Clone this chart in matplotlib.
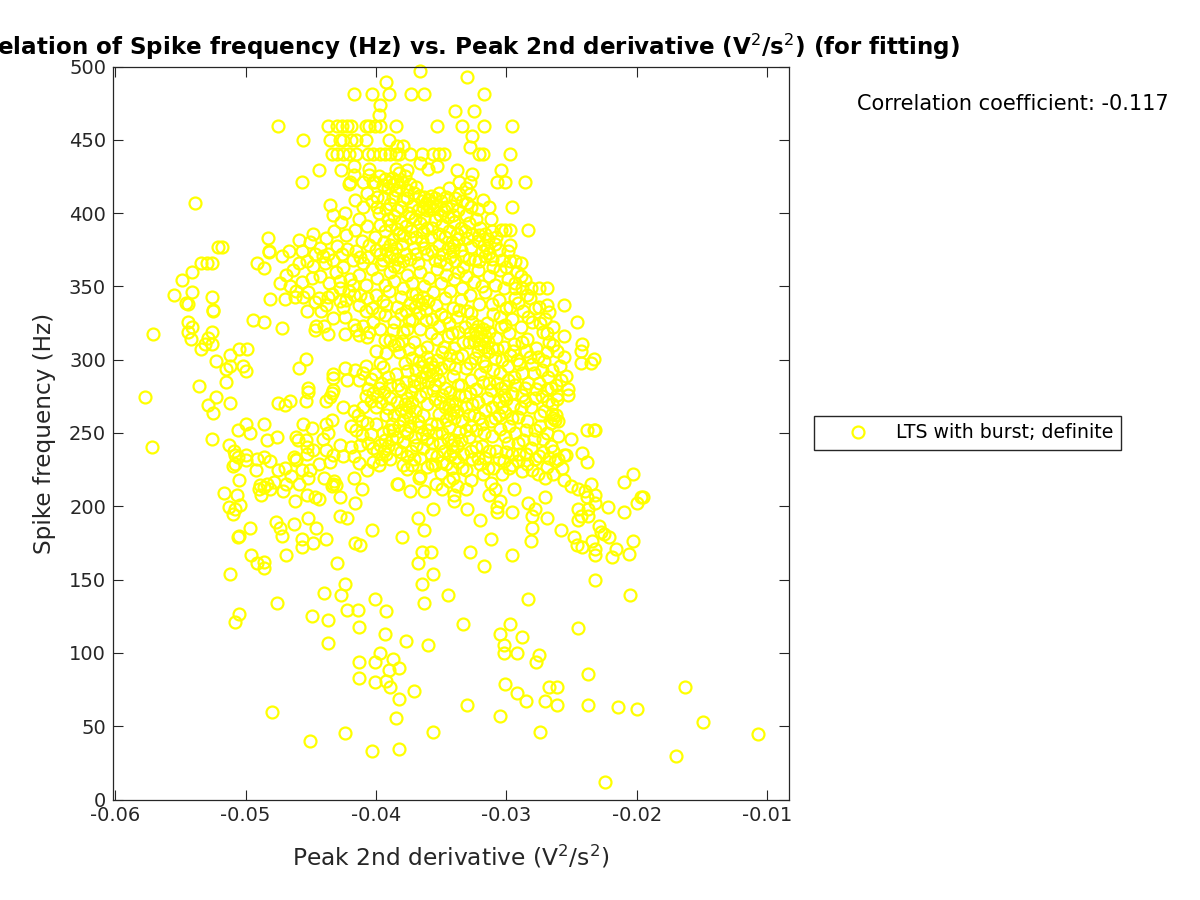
import matplotlib
matplotlib.use('Agg')
import matplotlib.pyplot as plt
import numpy as np

# points as (peak 2nd derivative, spike frequency)
pts_low_left = [(-.0512,153.9),(-.0505,126.8),(-.0508,121.1),(-.0476,134),(-.0480,60),(-.0451,40),(-.0424,45.5),(-.0403,33),
    (-.0382,34.2),(-.0385,55.5),(-.0356,45.8),(-.0371,74),(-.0382,68.5),(-.0389,77),(-.0392,81),(-.0401,80),(-.0413,82.6),
    (-.0413,94),(-.0401,94),(-.0397,99.7),(-.0387,95.8),(-.0390,88.6),(-.0382,90),(-.0437,107),(-.0413,118),(-.0437,122.5),
    (-.0449,125.5),(-.0422,129.6),(-.0414,129.6),(-.0401,136.7),(-.0392,128.4),(-.0393,112.7),(-.0377,108.4),(-.0360,105.4),
    (-.0440,141),(-.0427,139.4),(-.0424,146.9),(-.0430,161),(-.0368,161),(-.0356,153.9),(-.0365,146.9),(-.0345,139.6),
    (-.0363,134),(-.0365,169),(-.0358,169),(-.0496,166.7),(-.0491,161),(-.0486,162),(-.0486,158),(-.0469,166.7)]
pts_low_right = [(-.0107,44.4),(-.0170,30),(-.0149,52.8),(-.0163,76.8),(-.0224,11.6),(-.0200,61.5),(-.0214,62.8),(-.0237,64.2),
    (-.0237,85.4),(-.0261,64.2),(-.0270,67),(-.0261,76.8),(-.0267,76.8),(-.0274,45.8),(-.0285,67),(-.0305,57),(-.0292,72.7),
    (-.0301,78.5),(-.0330,64.2),(-.0277,93.9),(-.0275,98.4),(-.0292,99.7),(-.0302,99.7),(-.0302,105.3),(-.0305,112.7),
    (-.0288,111),(-.0297,119.6),(-.0333,119.6),(-.0245,116.8),(-.0205,139.4),(-.0232,149.6),(-.0283,136.7),(-.0317,159.5),
    (-.0328,169),(-.0296,166.7),(-.0232,166.7),(-.0219,165.3),(-.0206,167.7)]
pts_right_edge = [(-.0246,326),(-.0256,316),(-.0242,310.4),(-.0243,306),(-.0256,302),(-.0233,300.5),(-.0235,297.5),(-.0243,297.5),
    (-.0254,289),(-.0253,280),(-.0253,276),(-.0261,273),(-.0238,252),(-.0233,252),(-.0232,252),(-.0250,246),(-.0242,236.5),
    (-.0238,230.5),(-.0254,235),(-.0256,235),(-.0203,222),(-.0210,216.5),(-.0195,206.5),(-.0197,206.5),(-.0200,202),
    (-.0222,199.4),(-.0210,196.4),(-.0235,215),(-.0232,208),(-.0245,212),(-.0240,210.7),(-.0238,206.5),(-.0232,202),
    (-.0245,198),(-.0237,198),(-.0243,193.6),(-.0237,193.6),(-.0245,190.8),(-.0258,183.7),(-.0229,186.6),(-.0227,182.4),
    (-.0225,181),(-.0221,179.3),(-.0203,176.6),(-.0234,176.6),(-.0248,179.3),(-.0246,173.8),(-.0242,172.2),(-.0232,171),
    (-.0216,171),(-.0269,192.3),(-.0280,185),(-.0281,176.6),(-.0312,178),(-.0320,190.8),(-.0330,198),(-.0296,196.4),
    (-.0307,199.4),(-.0307,196.4),(-.0305,203.6),(-.0283,202),(-.0278,198),(-.0280,193.6),(-.0270,206.5),(-.0294,212),
    (-.0313,208),(-.0309,212),(-.0331,212),(-.0340,208),(-.0340,203.6),(-.0334,226.4),(-.0320,229),(-.0313,237.8),(-.0323,240.5)]
pts_top_right = [(-.0330,492.5),(-.0317,481),(-.0339,469.7),(-.0325,469.7),(-.0334,459.7),(-.0317,459.7),(-.0296,459.7),
    (-.0326,452.5),(-.0328,445.4),(-.0321,440),(-.0318,440),(-.0297,440),(-.0304,429.7),(-.0338,429.7),(-.0326,427),
    (-.0307,421.4),(-.0301,421.4),(-.0286,421.4),(-.0336,421.4),(-.0328,421.4),(-.0331,417),(-.0328,412.7),(-.0313,404.4),
    (-.0296,404.4),(-.0283,388.7),(-.0297,388.7),(-.0301,388.7),(-.0304,388.7),(-.0312,395.8),(-.0299,374.4),(-.0297,367),
    (-.0293,367.5),(-.0289,365.8),(-.0292,360),(-.0286,354.5),(-.0269,348.7),(-.0275,348.7),(-.0281,348.7),(-.0288,348.7),
    (-.0293,348.7),(-.0256,337.4),(-.0269,337.4),(-.0267,332.7)]
pts_top_left = [(-.0366,496.8),(-.0392,489.4),(-.0417,481),(-.0403,481),(-.0390,481),(-.0373,481),(-.0363,481),(-.0397,474),
    (-.0398,466.6),(-.0475,459.7),(-.0437,459.7),(-.0430,459.7),(-.0426,459.7),(-.0422,459.7),(-.0419,459.7),(-.0408,459.7),
    (-.0405,459.7),(-.0401,459.7),(-.0397,459.7),(-.0385,459.7),(-.0353,459.7),(-.0456,449.8),(-.0435,449.8),(-.0428,449.8),
    (-.0425,449.8),(-.0419,449.8),(-.0415,449.8),(-.0408,449.8),(-.0390,449.8),(-.0384,446),(-.0379,445.5),(-.0434,440),
    (-.0430,440),(-.0425,440),(-.0421,440),(-.0415,440),(-.0406,440),(-.0402,440),(-.0397,440),(-.0393,440),(-.0389,440),
    (-.0385,440),(-.0382,440),(-.0374,440),(-.0365,440),(-.0356,440),(-.0352,440),(-.0348,440),(-.0444,429.7),(-.0457,421.4),
    (-.0427,429.7),(-.0417,431.8),(-.0405,430),(-.0385,430),(-.0382,427.3),(-.0376,429.5),(-.0366,434),(-.0360,430),(-.0353,432),
    (-.0420,421.4),(-.0421,420),(-.0410,421.4),(-.0401,421.4),(-.0417,426),(-.0405,426),(-.0539,407),(-.0435,405.7),(-.0416,408.6),
    (-.0410,404.4),(-.0399,404.4),(-.0433,398.4),(-.0427,393.8),(-.0424,400),(-.0416,388.7),(-.0413,396),(-.0407,391),(-.0448,385.9),
    (-.0451,380.5),(-.0459,381.5),(-.0483,382.9),(-.0521,377),(-.0518,377),(-.0482,374.3),(-.0482,373.7),(-.0467,374.4),(-.0457,374.4),
    (-.0472,370.5),(-.0430,377.7),(-.0422,375.3),(-.0412,370.3),(-.0437,372),(-.0534,365.8),(-.0530,365.8),(-.0526,365.8),
    (-.0491,365.8),(-.0486,362.8),(-.0541,360),(-.0549,354.5),(-.0541,346),(-.0555,344.4),(-.0526,343),(-.0546,339),(-.0544,337.8),
    (-.0481,341.6),(-.0470,341.6),(-.0456,343),(-.0525,334)]
pts_mid_left = [(-.0571,317.6),(-.0577,274.8),(-.0572,240.6),(-.0525,333),(-.0544,326),(-.0541,322.5),(-.0544,319),(-.0542,314),
    (-.0526,319),(-.0529,314.6),(-.0526,310.4),(-.0534,307.5),(-.0531,311),(-.0512,303),(-.0505,307),(-.0499,307.5),(-.0523,299),
    (-.0502,296),(-.0500,292),(-.0512,296),(-.0515,293.5),(-.0515,284.8),(-.0536,282),(-.0523,274.8),(-.0529,269),(-.0512,270.5),
    (-.0525,263.4),(-.0526,246.2),(-.0513,241.9),(-.0509,237.8),(-.0508,235),(-.0506,233.7),(-.0500,235),(-.0510,227.5),(-.0508,229),
    (-.0500,231.5),(-.0491,232),(-.0486,233.7),(-.0481,231),(-.0492,224.7),(-.0505,217.9),(-.0475,225),(-.0470,226),(-.0463,233.7),
    (-.0461,232),(-.0517,209),(-.0507,208),(-.0513,199.5),(-.0504,200.8),(-.0510,195),(-.0508,198),(-.0497,185),(-.0506,179),
    (-.0505,179.5),(-.0489,214.5),(-.0486,213),(-.0488,207.6),(-.0481,212),(-.0490,212),(-.0484,215),(-.0478,216.7),(-.0471,210.5),
    (-.0469,215.5),(-.0465,221),(-.0459,215.5),(-.0453,208),(-.0462,203.7),(-.0447,206.4),(-.0444,205),(-.0428,206.4),(-.0416,202),
    (-.0411,212),(-.0417,219.3),(-.0433,215.5),(-.0432,217),(-.0434,214),(-.0431,214.5),(-.0440,219),(-.0452,219),(-.0407,224.7),
    (-.0477,189.3),(-.0474,185.4),(-.0472,179.6),(-.0463,187.8),(-.0452,192),(-.0446,185),(-.0457,178),(-.0457,172.2),(-.0448,175),
    (-.0438,178),(-.0428,193.6),(-.0422,192),(-.0403,183.7),(-.0380,179.3),(-.0416,175),(-.0412,173.8),(-.0368,192.3),(-.0363,183.7),
    (-.0356,198),(-.0384,215),(-.0383,215),(-.0374,210.7),(-.0363,210.7),(-.0379,228),(-.0376,225.7),(-.0371,232.6),(-.0366,221),
    (-.0367,219),(-.0494,327.3),(-.0486,326),(-.0472,321.7),(-.0446,323),(-.0447,320.3),(-.0440,323),(-.0437,317.6),(-.0424,317.6),
    (-.0433,328.6),(-.0424,329),(-.0417,323.8),(-.0415,320.3),(-.0413,317),(-.0410,323),(-.0407,315.6),(-.0405,319),(-.0438,337.4),
    (-.0447,339.5),(-.0413,337.4),(-.0425,336),(-.0428,340),(-.0403,335),(-.0398,331.6),(-.0393,330.6),(-.0454,300.2),(-.0459,294.5),
    (-.0433,290.3),(-.0433,287.3),(-.0424,294.5),(-.0416,293),(-.0422,286),(-.0413,286),(-.0410,290.7),(-.0401,290.3),(-.0397,297.5),
    (-.0392,304.3),(-.0393,313.5),(-.0389,313.5),(-.0383,311),(-.0452,280.4),(-.0452,278),(-.0454,271.9),(-.0438,271.9),(-.0435,274.7),
    (-.0433,279.4),(-.0434,277),(-.0475,270.5),(-.0470,269),(-.0466,271.9),(-.0425,267.8),(-.0417,264.7),(-.0414,262),(-.0500,256),
    (-.0506,252),(-.0497,250.3),(-.0486,256),(-.0484,244.9),(-.0476,247.6),(-.0456,256),(-.0449,253.4),(-.0434,259),(-.0438,256),
    (-.0437,250.3),(-.0441,246),(-.0461,247.6),(-.0460,245),(-.0454,245),(-.0453,240.5),(-.0448,238.4),(-.0453,236),(-.0428,242),
    (-.0438,238.4),(-.0433,235),(-.0425,234),(-.0435,230),(-.0444,229),(-.0451,224.7),(-.0457,224.7),(-.0461,231.5),(-.0419,240.5),
    (-.0412,242),(-.0417,234),(-.0413,229.3),(-.0419,254.8),(-.0415,252),(-.0411,248.6)]
# dense middle: rings overlap, so these are estimates by clump
pts_core_top = [(-.0402,421),(-.0398,425),(-.0395,419),(-.0393,423),(-.0391,417),(-.0390,421),(-.0388,424),(-.0387,420),(-.0385,416),
    (-.0384,422),(-.0382,418),(-.0380,421),(-.0378,425),(-.0376,416),(-.0374,420),(-.0371,414),(-.0369,418),(-.0367,412),(-.0365,408),
    (-.0364,404),(-.0363,411),(-.0362,407),(-.0361,402),(-.0360,409),(-.0359,405),(-.0358,412),(-.0357,407),(-.0356,403),(-.0355,410),
    (-.0354,405),(-.0352,414),(-.0350,408),(-.0348,402),(-.0346,411),(-.0344,417),(-.0342,405),(-.0339,410),(-.0337,402),(-.0334,408),
    (-.0331,399),(-.0327,404),(-.0394,410),(-.0389,406),(-.0384,402),(-.0379,409),(-.0375,400),(-.0372,405),(-.0403,408),(-.0398,400),
    (-.0391,396),(-.0386,398),(-.0381,394),(-.0377,391),(-.0370,396),(-.0366,393),(-.0361,390),(-.0355,395),(-.0349,392),(-.0345,397),
    (-.0340,394),(-.0335,390),(-.0329,393),(-.0323,396),(-.0320,390),(-.0316,386),(-.0308,384),(-.0405,378),(-.0401,384),(-.0397,372),
    (-.0394,380),(-.0392,375),(-.0390,370),(-.0389,378),(-.0388,373),(-.0387,382),(-.0385,376),(-.0384,369),(-.0382,386),(-.0380,379),
    (-.0377,372),(-.0374,383),(-.0371,376),(-.0368,366),(-.0365,381),(-.0361,372),(-.0358,384),(-.0355,368),(-.0352,378),(-.0349,372),
    (-.0347,384),(-.0345,376),(-.0343,370),(-.0342,380),(-.0341,374),(-.0340,378),(-.0339,367),(-.0337,382),(-.0335,375),(-.0333,371),
    (-.0330,383),(-.0327,377),(-.0324,368),(-.0322,381),(-.0319,374),(-.0317,378),(-.0316,371),(-.0315,376),(-.0314,382),(-.0313,373),
    (-.0311,369),(-.0309,379),(-.0306,375),(-.0303,368),(-.0403,362),(-.0399,356),(-.0396,365),(-.0393,351),(-.0389,360),(-.0386,354),
    (-.0383,363),(-.0379,349),(-.0376,358),(-.0372,352),(-.0369,345),(-.0366,360),(-.0363,350),(-.0359,356),(-.0356,346),(-.0353,362),
    (-.0350,352),(-.0346,358),(-.0343,347),(-.0340,355),(-.0337,360),(-.0334,349),(-.0331,357),(-.0328,344),(-.0325,353),(-.0322,361),
    (-.0319,350),(-.0316,346),(-.0313,357),(-.0309,351),(-.0305,361),(-.0302,349),(-.0299,355),(-.0448,364),(-.0443,357),(-.0439,366),
    (-.0436,352),(-.0431,360),(-.0428,349),(-.0425,363),(-.0420,355),(-.0417,344),(-.0413,358),(-.0408,351),(-.0464,361),(-.0457,353),
    (-.0466,350),(-.0461,347),(-.0452,346),(-.0449,356),(-.0444,342),(-.0434,345),(-.0421,347),(-.0407,342),(-.0432,388),(-.0438,383),
    (-.0423,385),(-.0411,381),(-.0443,376),(-.0418,368)]
pts_core_mid = [(-.0400,344),(-.0395,340),(-.0390,347),(-.0384,336),(-.0381,343),(-.0377,333),(-.0374,339),(-.0372,345),(-.0370,336),
    (-.0368,341),(-.0367,332),(-.0365,338),(-.0364,343),(-.0362,334),(-.0360,340),(-.0357,328),(-.0354,337),(-.0350,331),(-.0347,342),
    (-.0344,325),(-.0341,335),(-.0338,329),(-.0335,341),(-.0332,322),(-.0330,333),(-.0328,318),(-.0326,326),(-.0325,313),(-.0324,320),
    (-.0323,316),(-.0322,323),(-.0321,311),(-.0320,318),(-.0319,314),(-.0318,321),(-.0317,309),(-.0316,316),(-.0315,325),(-.0314,312),
    (-.0313,319),(-.0311,308),(-.0310,331),(-.0308,315),(-.0306,341),(-.0304,322),(-.0302,309),(-.0300,335),(-.0298,318),(-.0296,328),
    (-.0294,311),(-.0291,339),(-.0289,322),(-.0287,333),(-.0284,314),(-.0282,342),(-.0280,326),(-.0277,308),(-.0275,336),(-.0272,319),
    (-.0270,328),(-.0267,312),(-.0264,322),(-.0261,306),(-.0386,326),(-.0379,319),(-.0375,327),(-.0371,312),(-.0366,321),(-.0361,309),
    (-.0358,318),(-.0353,314),(-.0349,305),(-.0345,316),(-.0340,308),(-.0337,319),(-.0334,303),(-.0329,312),(-.0382,305),(-.0378,298),
    (-.0375,307),(-.0372,301),(-.0369,293),(-.0367,299),(-.0365,288),(-.0364,296),(-.0362,291),(-.0361,302),(-.0360,285),(-.0359,293),
    (-.0358,298),(-.0357,289),(-.0356,295),(-.0355,283),(-.0354,291),(-.0353,300),(-.0352,286),(-.0350,294),(-.0347,281),(-.0344,297),
    (-.0341,289),(-.0338,302),(-.0335,283),(-.0331,294),(-.0327,286),(-.0324,301),(-.0320,290),(-.0316,296),(-.0313,284),(-.0309,301),
    (-.0305,291),(-.0301,282),(-.0297,303),(-.0294,288),(-.0290,297),(-.0286,281),(-.0282,302),(-.0279,291),(-.0275,284),(-.0271,299),
    (-.0268,288),(-.0265,293),(-.0262,283),(-.0259,296),(-.0385,290),(-.0389,283),(-.0381,280),(-.0377,285),(-.0373,278),(-.0406,280),
    (-.0404,272),(-.0402,277),(-.0400,268),(-.0399,275),(-.0398,281),(-.0396,271),(-.0394,278),(-.0391,267),(-.0389,274),(-.0386,262),
    (-.0384,271),(-.0381,266),(-.0379,259),(-.0378,270),(-.0377,264),(-.0376,274),(-.0375,268),(-.0374,261),(-.0372,271),(-.0370,265),
    (-.0368,258),(-.0366,275),(-.0364,262),(-.0361,270),(-.0358,256),(-.0355,273),(-.0352,263),(-.0349,276),(-.0346,259),(-.0344,269),
    (-.0343,263),(-.0342,272),(-.0341,266),(-.0340,260),(-.0339,270),(-.0338,265),(-.0336,276),(-.0334,258),(-.0331,268),(-.0328,277),
    (-.0325,262),(-.0322,271),(-.0319,256),(-.0316,266),(-.0312,279),(-.0309,260),(-.0306,272),(-.0304,281),(-.0303,268),(-.0302,276),
    (-.0301,264),(-.0300,273),(-.0298,255),(-.0295,269),(-.0291,261),(-.0288,276),(-.0284,258),(-.0281,268),(-.0278,274),(-.0274,255),
    (-.0271,265),(-.0268,272),(-.0266,257),(-.0265,263),(-.0264,260),(-.0263,259),(-.0262,262),(-.0260,258)]
pts_core_low = [(-.0404,249),(-.0400,256),(-.0397,242),(-.0395,250),(-.0394,238),(-.0393,245),(-.0392,236),(-.0391,241),(-.0390,252),
    (-.0388,246),(-.0385,239),(-.0382,255),(-.0379,244),(-.0376,250),(-.0373,238),(-.0370,247),(-.0367,254),(-.0364,240),(-.0361,246),
    (-.0358,236),(-.0354,250),(-.0351,243),(-.0348,238),(-.0345,246),(-.0343,235),(-.0342,242),(-.0341,238),(-.0340,245),(-.0339,233),
    (-.0338,241),(-.0336,251),(-.0333,236),(-.0329,247),(-.0326,232),(-.0323,252),(-.0319,241),(-.0316,233),(-.0311,248),(-.0308,238),
    (-.0305,253),(-.0302,231),(-.0299,243),(-.0296,228),(-.0293,250),(-.0290,236),(-.0287,245),(-.0284,229),(-.0281,240),(-.0278,252),
    (-.0275,234),(-.0272,246),(-.0269,227),(-.0266,241),(-.0263,231),(-.0260,248),(-.0257,226),(-.0399,238),(-.0355,228),(-.0350,223),
    (-.0346,229),(-.0341,219),(-.0354,215),(-.0349,212),(-.0344,217),(-.0338,214),(-.0327,218),(-.0318,222),(-.0312,216),(-.0303,222),
    (-.0298,226),(-.0288,224),(-.0276,222),(-.0270,219),(-.0264,222),(-.0256,218),(-.0250,214),(-.0361,227),(-.0353,234),(-.0331,225),
    (-.0310,226),(-.0300,237),(-.0280,225),(-.0267,233)]
pts_core_fill = [(-.0407,414),(-.0399,411),(-.0392,403),(-.0387,411),(-.0381,404),(-.0376,410),(-.0373,397),(-.0368,402),(-.0363,396),
    (-.0351,399),(-.0346,404),(-.0341,399),(-.0336,413),(-.0330,407),(-.0322,403),(-.0318,409),(-.0397,392),(-.0393,388),(-.0389,392),
    (-.0384,389),(-.0379,385),(-.0373,388),(-.0369,384),(-.0364,387),(-.0357,390),(-.0352,386),(-.0344,388),(-.0338,386),(-.0332,388),
    (-.0326,386),(-.0321,385),(-.0311,388),(-.0406,370),(-.0400,375),(-.0395,368),(-.0386,364),(-.0379,367),(-.0374,369),(-.0369,372),
    (-.0363,376),(-.0357,374),(-.0351,367),(-.0346,365),(-.0333,363),(-.0329,369),(-.0321,367),(-.0310,363),(-.0300,363),(-.0297,378),
    (-.0293,352),(-.0289,357),(-.0284,344),(-.0410,366),(-.0415,374),(-.0426,372),(-.0433,368),(-.0441,371),(-.0447,372),(-.0453,367),
    (-.0459,366),(-.0469,358),(-.0474,352),(-.0462,343),(-.0453,333),(-.0442,333),(-.0437,343),(-.0428,354),(-.0423,341),(-.0418,351),
    (-.0412,344),(-.0408,333),(-.0402,326),(-.0397,321),(-.0392,337),(-.0387,320),(-.0381,331),(-.0376,321),(-.0372,327),(-.0362,327),
    (-.0352,323),(-.0347,329),(-.0342,318),(-.0336,334),(-.0327,332),(-.0321,338),(-.0311,338),(-.0305,329),(-.0301,324),(-.0297,336),
    (-.0293,342),(-.0288,312),(-.0283,329),(-.0278,335),(-.0274,325),(-.0269,318),(-.0264,310),(-.0400,306),(-.0395,295),(-.0391,288),
    (-.0386,310),(-.0380,313),(-.0376,292),(-.0371,286),(-.0366,306),(-.0348,309),(-.0343,303),(-.0339,294),(-.0333,312),(-.0328,298),
    (-.0322,306),(-.0318,299),(-.0314,305),(-.0310,293),(-.0307,307),(-.0303,300),(-.0299,296),(-.0295,306),(-.0292,300),(-.0288,291),
    (-.0285,306),(-.0280,297),(-.0276,302),(-.0273,293),(-.0269,305),(-.0266,281),(-.0261,276),(-.0258,286),(-.0408,296),(-.0404,287),
    (-.0396,284),(-.0392,262),(-.0388,256),(-.0383,283),(-.0371,282),(-.0366,284),(-.0362,278),(-.0356,279),(-.0351,271),(-.0347,268),
    (-.0343,278),(-.0337,283),(-.0332,275),(-.0329,262),(-.0326,270),(-.0323,280),(-.0318,285),(-.0315,274),(-.0311,268),(-.0307,284),
    (-.0299,286),(-.0296,277),(-.0293,283),(-.0289,267),(-.0286,272),(-.0283,284),(-.0277,280),(-.0273,275),(-.0269,280),(-.0265,270),
    (-.0269,250),(-.0274,262),(-.0279,246),(-.0285,252),(-.0291,243),(-.0296,260),(-.0301,248),(-.0306,262),(-.0312,258),(-.0317,250),
    (-.0321,260),(-.0327,255),(-.0331,252),(-.0335,245),(-.0344,254),(-.0349,250),(-.0353,256),(-.0357,243),(-.0360,252),(-.0365,249),
    (-.0369,242),(-.0374,255),(-.0378,252),(-.0381,237),(-.0384,247),(-.0387,252),(-.0389,232),(-.0396,232),(-.0402,240),(-.0407,257),
    (-.0410,268),(-.0408,275),(-.0411,258),(-.0406,243),(-.0402,230),(-.0398,228),(-.0376,234),(-.0372,228),(-.0366,233),(-.0357,229),
    (-.0349,230),(-.0342,226),(-.0337,230),(-.0327,238),(-.0322,233),(-.0314,226),(-.0306,232),(-.0296,236),(-.0291,231),(-.0285,236),
    (-.0278,232),(-.0272,237),(-.0264,238),(-.0260,232)]

corr_text = "Correlation coefficient: -0.117"
legend_label = "LTS with burst; definite"
x_ticks = [-0.06, -0.05, -0.04, -0.03, -0.02, -0.01]
x_tick_labels = ['-0.06', '-0.05', '-0.04', '-0.03', '-0.02', '-0.01']
y_ticks = list(range(0, 501, 50))

all_pts = np.array(pts_low_left + pts_low_right + pts_right_edge + pts_top_right + pts_top_left
                   + pts_mid_left + pts_core_top + pts_core_mid + pts_core_low + pts_core_fill)

plt.rcParams['font.family'] = 'DejaVu Sans'
dark = '#262626'

fig = plt.figure(figsize=(12, 9), dpi=100)
ax = fig.add_axes([113 / 1200, 1 - 799.5 / 900, 676 / 1200, 733 / 900])
line, = ax.plot(all_pts[:, 0], all_pts[:, 1], linestyle='none', marker='o', markersize=8.6,
                markerfacecolor='none', markeredgecolor='#ffff00', markeredgewidth=1.6,
                label=legend_label, clip_on=False)

ax.set_xlim(-0.06018, -0.00831)
ax.set_ylim(0, 500)
ax.set_xticks(x_ticks)
ax.set_xticklabels(x_tick_labels)
ax.set_yticks(y_ticks)
ax.tick_params(direction='in', length=7, width=0.8, top=True, right=True, colors=dark, labelsize=14, pad=5)
for s in ax.spines.values():
    s.set_color(dark)
    s.set_linewidth(0.9)

ax.set_xlabel('Peak 2nd derivative (V$^2$/s$^2$)', fontsize=16.8, color=dark, labelpad=13)
ax.set_ylabel('Spike frequency (Hz)', fontsize=16.7, color=dark, labelpad=9)
ax.set_title('Correlation of Spike frequency (Hz) vs. Peak 2nd derivative (V$^2$/s$^2$) (for fitting)',
             fontsize=16.6, fontweight='bold', color='black', pad=8)

fig.text(1013 / 1200, 1 - 104 / 900, corr_text, fontsize=15, color='black', ha='center', va='center')

ax.legend(loc='center left', bbox_to_anchor=(814 / 1200, 1 - 433 / 900), bbox_transform=fig.transFigure,
          frameon=True, fancybox=False, framealpha=1, edgecolor=dark, fontsize=13.6, borderaxespad=0,
          handletextpad=0.03, handlelength=3.9, borderpad=0.4)

fig.savefig('out.png', dpi=100)
plt.close(fig)
